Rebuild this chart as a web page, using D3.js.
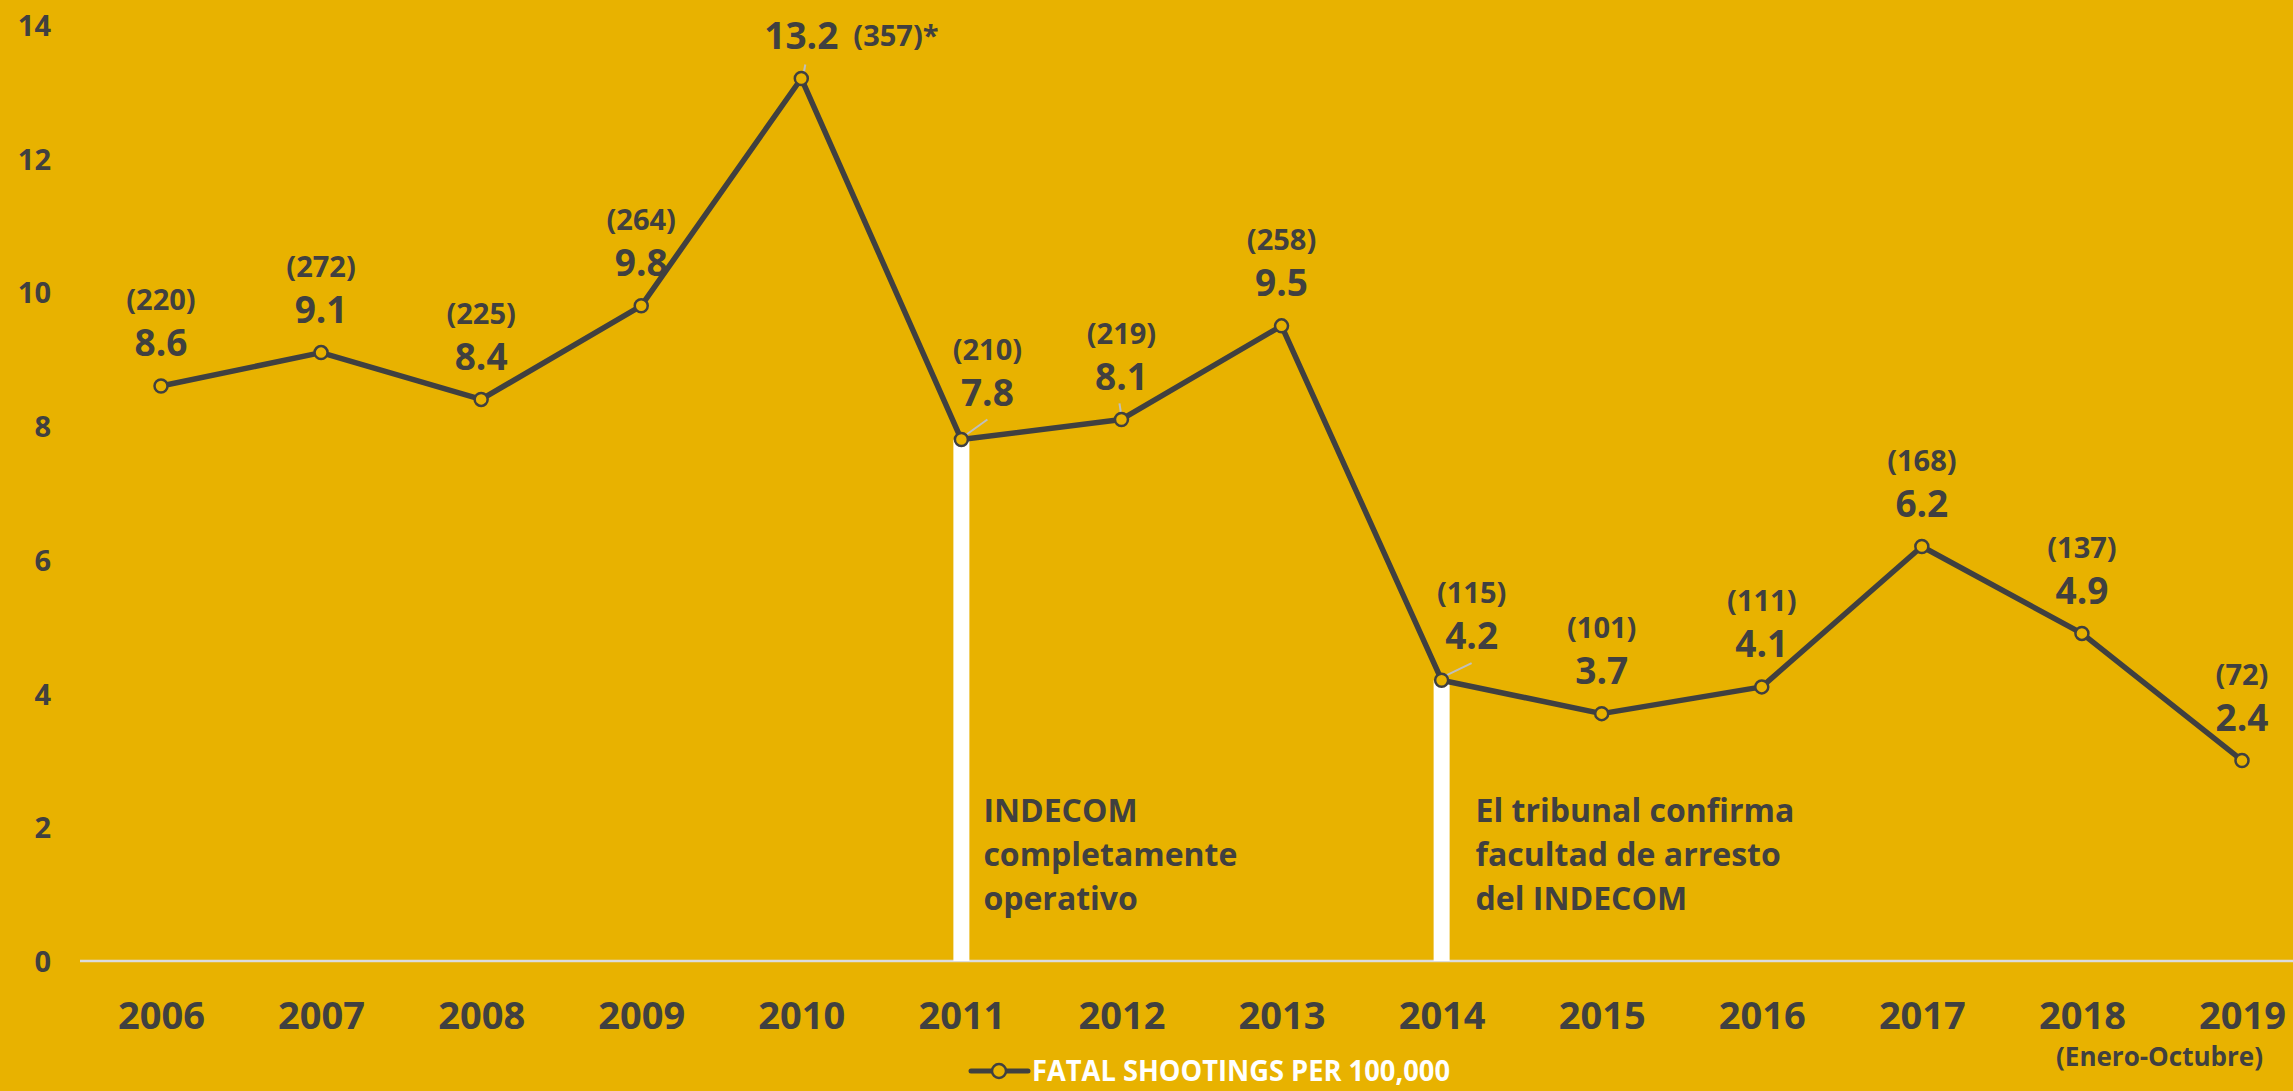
<!DOCTYPE html>
<html>
<head>
<meta charset="utf-8">
<script src="https://cdn.jsdelivr.net/npm/d3@7"></script>
<style>
  html, body { margin: 0; padding: 0; background: #E8B200; }
  svg { display: block; font-family: "Open Sans", "Noto Sans", sans-serif; font-weight: bold; }
</style>
</head>
<body>
<svg width="2293" height="1091"></svg>
<script>
const years = ["2006", "2007", "2008", "2009", "2010", "2011", "2012", "2013", "2014", "2015", "2016", "2017", "2018", "2019"]
const rates = [8.6, 9.1, 8.4, 9.8, 13.2, 7.8, 8.1, 9.5, 4.2, 3.7, 4.1, 6.2, 4.9, 3.0]
const rateLabels = ["8.6", "9.1", "8.4", "9.8", "13.2", "7.8", "8.1", "9.5", "4.2", "3.7", "4.1", "6.2", "4.9", "2.4"]
const counts = ["(220)", "(272)", "(225)", "(264)", "(357)*", "(210)", "(219)", "(258)", "(115)", "(101)", "(111)", "(168)", "(137)", "(72)"]
const yTicks = [0, 2, 4, 6, 8, 10, 12, 14]
const markedYears = ["2011", "2014"]
const notes = [
    ["INDECOM", "completamente", "operativo"],
    ["El tribunal confirma", "facultad de arresto", "del INDECOM"]
]
const legendLabel = "FATAL SHOOTINGS PER 100,000"
const lastYearNote = "(Enero-Octubre)"

const BG = "#E8B200"
const INK = "#404040"

const svg = d3.select("svg")
const data = years.map((y, i) => ({ year: y, rate: rates[i], label: rateLabels[i], count: counts[i] }))

const xScale = d3.scalePoint().domain(years).range([161, 2242])
const yScale = d3.scaleLinear().domain([0, 14]).range([961, 25])

// y axis labels (no axis line)
const yAxis = d3.axisLeft(yScale).tickValues(yTicks).tickSize(0).tickPadding(0)
svg.append("g")
    .attr("transform", "translate(51,0)")
    .call(yAxis)
    .call(g => g.select(".domain").remove())
    .selectAll("text")
    .attr("dy", "0.36em")
    .style("font-family", "'Open Sans', sans-serif")
    .style("font-weight", "bold")
    .style("font-size", "29px")
    .style("fill", INK)

// zero line
svg.append("line")
    .attr("x1", 80)
    .attr("x2", 2293)
    .attr("y1", yScale(0))
    .attr("y2", yScale(0))
    .style("stroke", "#DCDCDC")
    .style("stroke-width", 2.5)

// x axis labels
const xAxis = d3.axisBottom(xScale).tickSize(0).tickPadding(0)
svg.append("g")
    .attr("transform", "translate(0,1015)")
    .call(xAxis)
    .call(g => g.select(".domain").remove())
    .selectAll("text")
    .attr("dy", "0.36em")
    .style("font-family", "'Open Sans', sans-serif")
    .style("font-weight", "bold")
    .style("font-size", "38px")
    .style("fill", INK)

svg.append("text")
    .attr("x", xScale("2019") + 21)
    .attr("y", 1057)
    .attr("dy", "0.36em")
    .attr("text-anchor", "end")
    .style("font-size", "26px")
    .style("fill", INK)
    .text(lastYearNote)

// white bars for the two milestones
svg.selectAll("rect.marker-bar")
    .data(data.filter(d => markedYears.includes(d.year)))
    .enter()
    .append("rect")
    .attr("class", "marker-bar")
    .attr("x", d => xScale(d.year) - 8)
    .attr("width", 16)
    .attr("y", d => yScale(d.rate))
    .attr("height", d => yScale(0) - yScale(d.rate))
    .style("fill", "white")

// milestone notes
const noteDx = [22, 34]
svg.selectAll("g.note")
    .data(markedYears)
    .enter()
    .append("g")
    .attr("class", "note")
    .each(function (yr, i) {
        d3.select(this).selectAll("text")
            .data(notes[i])
            .enter()
            .append("text")
            .attr("x", xScale(yr) + noteDx[i])
            .attr("y", (d, j) => 822 + j * 44)
            .style("font-size", "32px")
            .style("fill", INK)
            .text(d => d)
    })

// leader lines
const leaders = {
    "2010": [2, -3, 4, -14],
    "2011": [1, -2, 26, -20],
    "2012": [0, -3, -2, -16],
    "2014": [1, -3, 30, -17]
}
svg.selectAll("line.leader")
    .data(data.filter(d => leaders[d.year]))
    .enter()
    .append("line")
    .attr("class", "leader")
    .attr("x1", d => xScale(d.year) + leaders[d.year][0])
    .attr("y1", d => yScale(d.rate) + leaders[d.year][1])
    .attr("x2", d => xScale(d.year) + leaders[d.year][2])
    .attr("y2", d => yScale(d.rate) + leaders[d.year][3])
    .style("stroke", "#BFBFBF")
    .style("stroke-width", 2)

// the line
const line = d3.line().x(d => xScale(d.year)).y(d => yScale(d.rate))
svg.append("path")
    .datum(data)
    .attr("d", line)
    .style("fill", "none")
    .style("stroke", INK)
    .style("stroke-width", 5.5)
    .style("stroke-linejoin", "round")

svg.selectAll("circle.pt")
    .data(data)
    .enter()
    .append("circle")
    .attr("class", "pt")
    .attr("cx", d => xScale(d.year))
    .attr("cy", d => yScale(d.rate))
    .attr("r", 6.5)
    .style("fill", BG)
    .style("stroke", INK)
    .style("stroke-width", 2.5)

// value and count labels
const labelDx = { "2011": 26, "2014": 30 }
const labelDy = { "2011": -47, "2014": -45 }
svg.selectAll("g.lbl")
    .data(data)
    .enter()
    .append("g")
    .attr("class", "lbl")
    .attr("transform", d => `translate(${xScale(d.year) + (labelDx[d.year] || 0)},${yScale(d.rate) + (labelDy[d.year] || -43)})`)
    .each(function (d) {
        const g = d3.select(this)
        g.append("text")
            .attr("text-anchor", "middle")
            .attr("dy", "0.36em")
            .style("font-size", "37px")
            .style("fill", INK)
            .text(d.label)
        if (d.year === "2010") {
            g.append("text")
                .attr("x", 52)
                .attr("dy", "0.36em")
                .style("font-size", "29px")
                .style("fill", INK)
                .text(d.count)
        } else {
            g.append("text")
                .attr("y", -43)
                .attr("text-anchor", "middle")
                .attr("dy", "0.36em")
                .style("font-size", "29px")
                .style("fill", INK)
                .text(d.count)
        }
    })

// legend
const legend = svg.append("g").attr("transform", "translate(0,1071)")
legend.append("line")
    .attr("x1", 971).attr("x2", 1028)
    .style("stroke", INK)
    .style("stroke-width", 5)
    .style("stroke-linecap", "round")
legend.append("circle")
    .attr("cx", 999)
    .attr("r", 7)
    .style("fill", BG)
    .style("stroke", INK)
    .style("stroke-width", 2.5)
legend.append("text")
    .attr("x", 1032)
    .attr("dy", "0.36em")
    .attr("textLength", 418)
    .attr("lengthAdjust", "spacingAndGlyphs")
    .style("font-size", "28px")
    .style("fill", "white")
    .text(legendLabel)
</script>
</body>
</html>
